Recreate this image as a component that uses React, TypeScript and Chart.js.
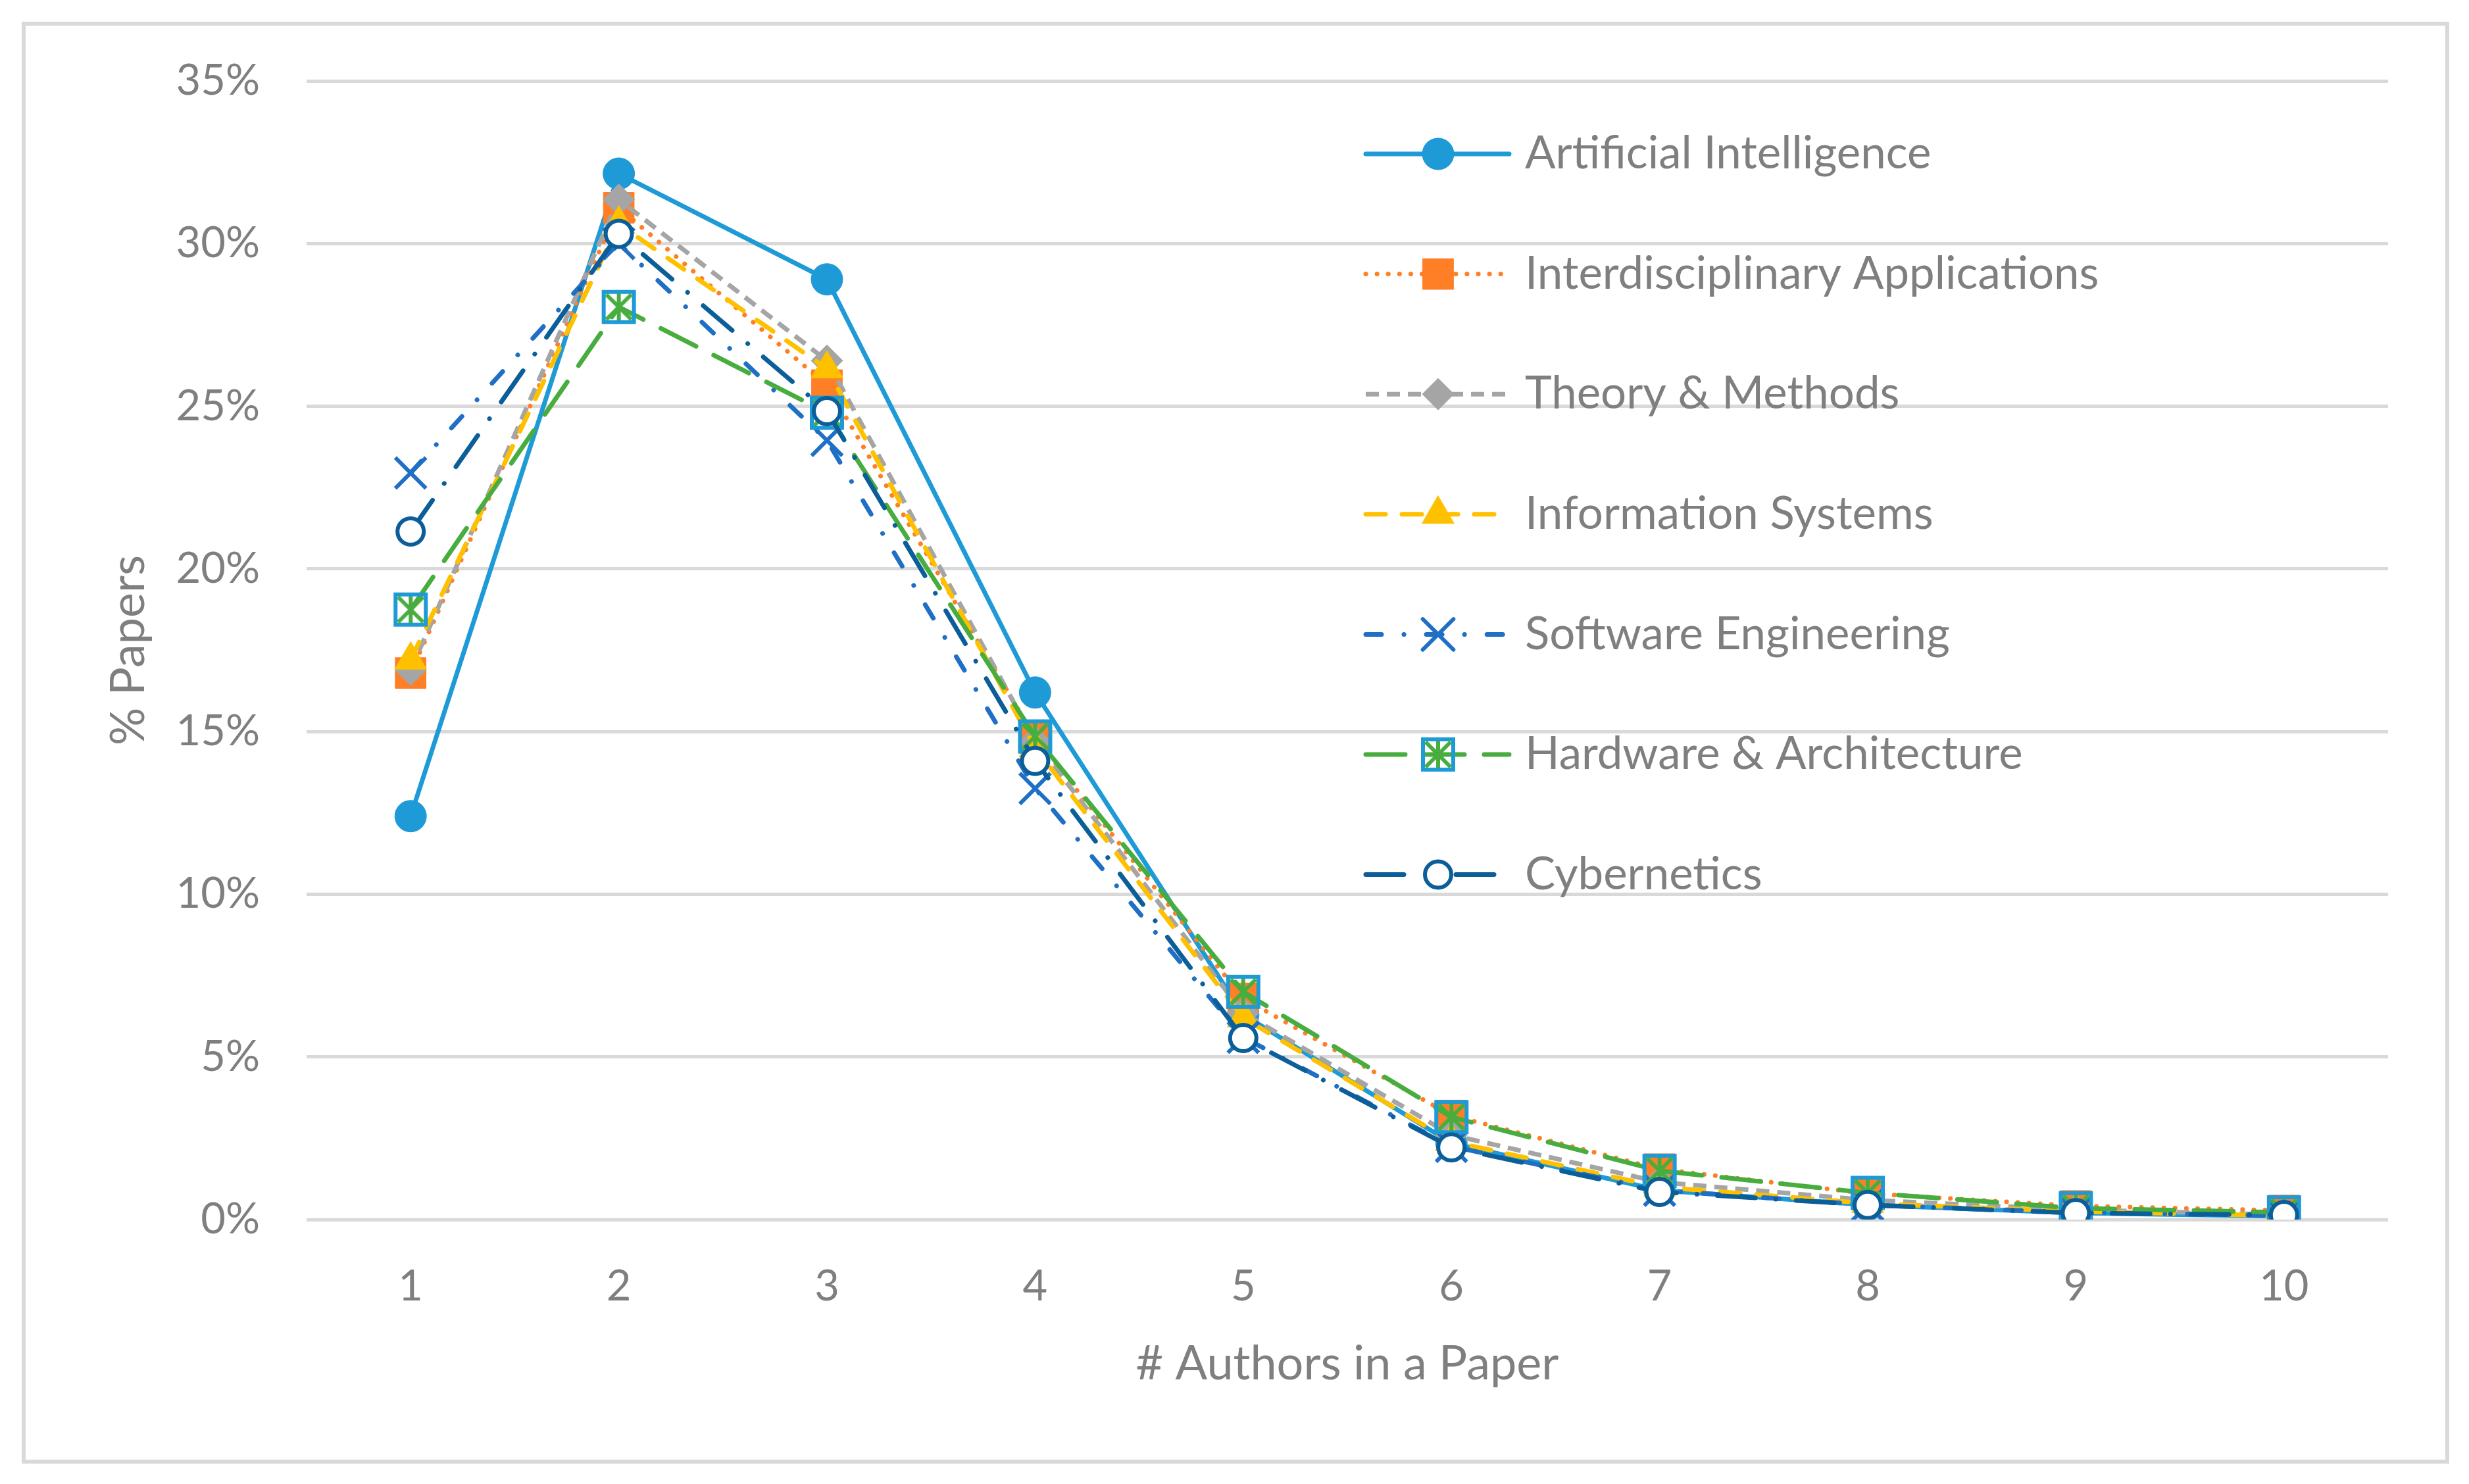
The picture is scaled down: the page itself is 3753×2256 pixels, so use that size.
import { useEffect, useRef } from "react";
import { Chart, registerables } from "chart.js";
import { drawPoint } from "chart.js/helpers";

Chart.register(...registerables);

// x categories: number of authors
const authorCounts = ["1", "2", "3", "4", "5", "6", "7", "8", "9", "10"];
const yTickValues = [0, 5, 10, 15, 20, 25, 30, 35];

// % of papers per field
const artificialIntelligence = [12.4, 32.15, 28.9, 16.2, 6.3, 2.35, 0.9, 0.45, 0.2, 0.1];
const interdisciplinary = [16.8, 31.1, 25.65, 14.8, 6.8, 3.2, 1.55, 0.8, 0.42, 0.28];
const theoryMethods = [16.9, 31.35, 26.4, 14.7, 6.35, 2.6, 1.15, 0.6, 0.3, 0.15];
const informationSystems = [17.2, 30.6, 26.15, 14.5, 6.2, 2.4, 1.0, 0.5, 0.25, 0.12];
const softwareEngineering = [22.95, 30.0, 23.95, 13.25, 5.6, 2.25, 0.9, 0.45, 0.22, 0.12];
const hardwareArchitecture = [18.75, 28.05, 24.8, 14.85, 7.0, 3.15, 1.5, 0.82, 0.35, 0.22];
const cybernetics = [21.15, 30.3, 24.85, 14.1, 5.58, 2.22, 0.85, 0.45, 0.2, 0.14];

const TEXT = "#7f7f7f";
const GRID = "#d9d9d9";
const FONT = "Lato, 'Open Sans', sans-serif";

function hwMarker() {
  const c = document.createElement("canvas");
  c.width = 56;
  c.height = 56;
  const g = c.getContext("2d")!;
  g.lineWidth = 6;
  g.strokeStyle = "#1e9ad6";
  g.strokeRect(5, 5, 46, 46);
  g.strokeStyle = "#48ad3f";
  g.lineCap = "butt";
  g.beginPath();
  g.moveTo(9, 9);
  g.lineTo(47, 47);
  g.moveTo(47, 9);
  g.lineTo(9, 47);
  g.moveTo(28, 8);
  g.lineTo(28, 48);
  g.stroke();
  return c;
}

const frame = {
  id: "frame",
  beforeDraw(chart: any) {
    const { ctx } = chart;
    ctx.save();
    ctx.strokeStyle = GRID;
    ctx.lineWidth = 6;
    ctx.strokeRect(36, 36, 3684, 2186);
    ctx.restore();
  },
};

const insideLegend = {
  id: "insideLegend",
  afterDraw(chart: any) {
    const { ctx, chartArea } = chart;
    const x0 = chartArea.left + 1610;
    const y0 = chartArea.top + 111;
    const step = 182.6;
    chart.data.datasets.forEach((ds: any, i: number) => {
      const y = y0 + i * step;
      ctx.save();
      ctx.strokeStyle = ds.borderColor;
      ctx.lineWidth = ds.borderWidth;
      ctx.lineCap = ds.borderCapStyle || "butt";
      ctx.setLineDash(ds.borderDash || []);
      const parts = ds.legendSplit
        ? [
            [x0, x0 + 62],
            [x0 + 137, x0 + 195],
          ]
        : [[x0, x0 + 218]];
      parts.forEach(([a, b]) => {
        ctx.beginPath();
        ctx.moveTo(a, y);
        ctx.lineTo(b, y);
        ctx.stroke();
      });
      ctx.setLineDash([]);
      ctx.fillStyle = ds.pointBackgroundColor;
      ctx.strokeStyle = ds.pointBorderColor;
      ctx.lineWidth = ds.pointBorderWidth;
      drawPoint(
        ctx,
        {
          pointStyle: ds.pointStyle,
          radius: ds.pointRadius,
          borderWidth: ds.pointBorderWidth,
          rotation: 0,
        } as any,
        x0 + 110,
        y
      );
      ctx.fillStyle = TEXT;
      ctx.font = `69px ${FONT}`;
      ctx.textBaseline = "middle";
      ctx.textAlign = "left";
      ctx.fillText(ds.label, x0 + 242, y);
      ctx.restore();
    });
  },
};

export default function App() {
  const canvasRef = useRef<HTMLCanvasElement | null>(null);
  const chartRef = useRef<Chart | null>(null);

  useEffect(() => {
    document.body.style.margin = "0";
    if (!canvasRef.current) return;
    chartRef.current?.destroy();

    const series = [
      {
        label: "Artificial Intelligence",
        data: artificialIntelligence,
        borderColor: "#1e9ad6",
        borderDash: [],
        borderCapStyle: "round",
        pointStyle: "circle",
        pointRadius: 24,
        pointBackgroundColor: "#1e9ad6",
        pointBorderColor: "#1e9ad6",
        pointBorderWidth: 1,
      },
      {
        label: "Interdisciplinary Applications",
        data: interdisciplinary,
        borderColor: "#ff7f27",
        borderDash: [0.1, 17],
        borderCapStyle: "round",
        pointStyle: "rect",
        pointRadius: 33,
        pointBackgroundColor: "#ff7f27",
        pointBorderColor: "#ff7f27",
        pointBorderWidth: 1,
      },
      {
        label: "Theory & Methods",
        data: theoryMethods,
        borderColor: "#a5a5a5",
        borderDash: [20, 12],
        borderCapStyle: "butt",
        pointStyle: "rectRot",
        pointRadius: 24,
        pointBackgroundColor: "#a5a5a5",
        pointBorderColor: "#a5a5a5",
        pointBorderWidth: 1,
      },
      {
        label: "Information Systems",
        data: informationSystems,
        borderColor: "#ffc000",
        borderDash: [30, 25],
        borderCapStyle: "round",
        pointStyle: "triangle",
        pointRadius: 28,
        pointBackgroundColor: "#ffc000",
        pointBorderColor: "#ffc000",
        pointBorderWidth: 1,
      },
      {
        label: "Software Engineering",
        data: softwareEngineering,
        borderColor: "#1f6fc5",
        borderDash: [24, 34, 0.1, 34],
        borderCapStyle: "round",
        pointStyle: "crossRot",
        pointRadius: 33,
        pointBackgroundColor: "#1f6fc5",
        pointBorderColor: "#1f6fc5",
        pointBorderWidth: 6,
      },
      {
        label: "Hardware & Architecture",
        data: hardwareArchitecture,
        borderColor: "#48ad3f",
        borderDash: [60, 30],
        borderCapStyle: "round",
        pointStyle: hwMarker(),
        pointRadius: 28,
        pointBackgroundColor: "#48ad3f",
        pointBorderColor: "#48ad3f",
        pointBorderWidth: 0,
      },
      {
        label: "Cybernetics",
        data: cybernetics,
        borderColor: "#0b5e98",
        borderDash: [58, 31, 0.1, 31],
        borderCapStyle: "round",
        legendSplit: true,
        pointStyle: "circle",
        pointRadius: 20,
        pointBackgroundColor: "#ffffff",
        pointBorderColor: "#0b5e98",
        pointBorderWidth: 6,
      },
    ];

    chartRef.current = new Chart(canvasRef.current, {
      type: "line",
      data: {
        labels: authorCounts,
        datasets: series.map((s, i) => ({
          ...s,
          borderWidth: 7,
          tension: 0,
          fill: false,
          order: series.length - i,
          pointHoverRadius: s.pointRadius,
        })) as any,
      },
      options: {
        responsive: false,
        animation: false,
        devicePixelRatio: 1,
        layout: { padding: { left: 40, right: 123, top: 123, bottom: 60 } },
        plugins: {
          legend: { display: false },
          tooltip: { enabled: false },
        },
        scales: {
          x: {
            type: "category",
            offset: true,
            grid: { display: false },
            border: { display: false },
            ticks: {
              color: TEXT,
              font: { family: FONT, size: 65 },
              padding: 55,
              maxRotation: 0,
            },
            title: {
              display: true,
              text: "# Authors in a Paper",
              color: TEXT,
              font: { family: FONT, size: 72 },
              padding: { top: 0, bottom: 79 },
            },
            afterFit: (scale: any) => {
              scale.height = 342;
            },
          },
          y: {
            min: 0,
            max: 35,
            afterBuildTicks: (scale: any) => {
              scale.ticks = yTickValues.map((v) => ({ value: v }));
            },
            grid: { color: GRID, lineWidth: 5, drawTicks: false },
            border: { display: false },
            ticks: {
              color: TEXT,
              font: { family: FONT, size: 65 },
              padding: 71,
              callback: (v: any) => `${v}%`,
            },
            title: {
              display: true,
              text: "% Papers",
              color: TEXT,
              font: { family: FONT, size: 72 },
              padding: { top: 113, bottom: 0 },
            },
            afterFit: (scale: any) => {
              scale.width = 426;
            },
          },
        },
      },
      plugins: [frame, insideLegend],
    });

    return () => {
      chartRef.current?.destroy();
      chartRef.current = null;
    };
  }, []);

  return (
    <div>
      <canvas ref={canvasRef} width={3753} height={2256} style={{ display: "block" }} />
    </div>
  );
}
